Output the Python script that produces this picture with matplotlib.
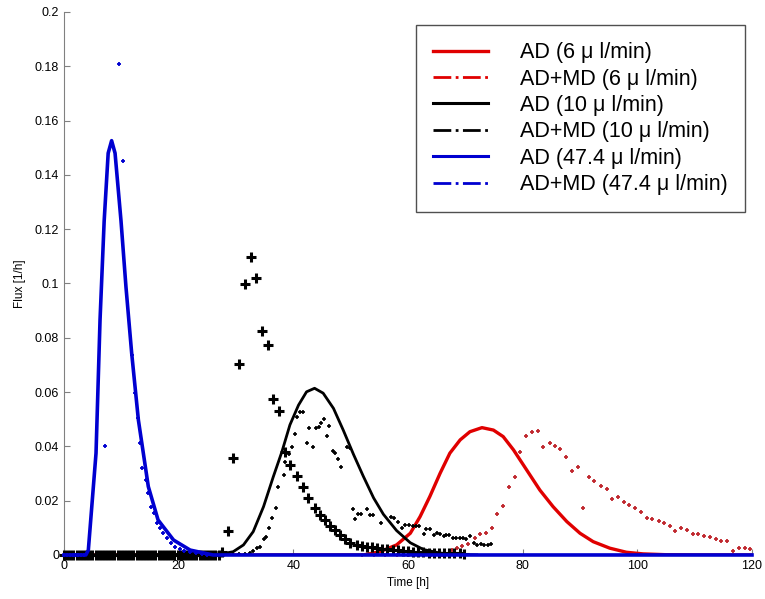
import matplotlib.pyplot as plt
from matplotlib.lines import Line2D
from matplotlib.ticker import FuncFormatter

plt.rcParams['font.family'] = ['Liberation Sans', 'DejaVu Sans']

# AD, 6 ul/min (red solid)
ad6_t = [0, 52.2, 55.1, 58.0, 60.4, 62.1, 63.8, 65.6, 67.3, 69.1, 70.8, 72.9, 74.9, 76.6,
         78.4, 80.7, 83.0, 85.3, 87.7, 90.0, 92.3, 95.2, 98.1, 101.0, 105.0, 110.0, 120.0]
ad6_f = [0, 0, 0.0012, 0.0037, 0.008, 0.0141, 0.0215, 0.0301, 0.0375, 0.0424, 0.0454, 0.0469,
         0.046, 0.0436, 0.0387, 0.0313, 0.0239, 0.0178, 0.0123, 0.008, 0.0049, 0.0025, 0.001,
         0.0004, 0.0001, 0, 0]

# AD+MD, 6 ul/min (red points)
admd6_t = [52.0, 54.0, 56.0, 58.0, 60.0, 62.0, 64.0, 66.0, 67.6, 68.5, 69.4, 70.4, 71.7, 72.6,
           73.6, 74.6, 75.6, 76.6, 77.6, 78.7, 79.5, 80.6, 81.6, 82.6, 83.6, 84.7, 85.6, 86.5,
           87.6, 88.6, 89.6, 90.6, 91.6, 92.5, 93.7, 94.7, 95.5, 96.6, 97.6, 98.6, 99.6, 100.6,
           101.6, 102.6, 103.7, 104.7, 105.7, 106.6, 107.6, 108.6, 109.7, 110.6, 111.6, 112.7,
           113.7, 114.6, 115.6, 116.6, 117.7, 118.7, 119.7]
admd6_f = [0, 0, 0, 0, 0, 0, 0, 0, 0.0018, 0.0025, 0.0033, 0.004, 0.0061, 0.0076, 0.0082,
           0.0101, 0.015, 0.018, 0.0252, 0.0286, 0.0378, 0.0438, 0.0454, 0.0457, 0.0399, 0.0411,
           0.0401, 0.0389, 0.0362, 0.0309, 0.0323, 0.0172, 0.0288, 0.0273, 0.0254, 0.0242,
           0.0205, 0.0214, 0.0194, 0.0183, 0.0172, 0.0157, 0.0137, 0.0131, 0.0125, 0.0117,
           0.0108, 0.0088, 0.0098, 0.0092, 0.0077, 0.0076, 0.007, 0.0066, 0.006, 0.005, 0.005,
           0.0016, 0.0027, 0.0027, 0.0022]

# AD, 10 ul/min (black solid)
ad10_t = [0, 27.2, 29.5, 31.3, 33.0, 34.8, 36.5, 38.0, 39.4, 40.9, 42.3, 43.7, 45.2, 47.0,
          48.7, 50.5, 52.2, 54.0, 55.7, 58.0, 60.4, 62.7, 65.6, 68.5, 72.0]
ad10_f = [0, 0.0003, 0.0012, 0.0037, 0.0086, 0.0178, 0.0288, 0.038, 0.0479, 0.0552, 0.0601,
          0.0614, 0.0596, 0.054, 0.046, 0.037, 0.029, 0.021, 0.015, 0.009, 0.0045,
          0.002, 0.0007, 0.0002, 0]

# AD+MD, 10 ul/min (small black points)
admd10_t = [27.5, 28.5, 29.5, 30.5, 31.5, 32.4, 33.0, 33.6, 34.1, 34.8, 35.2, 35.8, 36.3,
            36.9, 37.3, 38.3, 38.5, 39.3, 39.7, 40.3, 40.7, 41.2, 41.7, 42.3, 42.8, 43.4,
            44.0, 44.5, 44.9, 45.4, 45.8, 46.3, 46.9, 47.3, 47.8, 48.3, 49.3, 49.8, 50.4,
            50.8, 51.3, 51.8, 52.8, 53.4, 53.9, 55.3, 57.0, 57.6, 58.3, 58.9, 59.5, 60.2,
            60.9, 61.4, 62.0, 62.8, 63.2, 63.8, 64.5, 65.0, 65.6, 66.2, 66.7, 67.2, 67.8,
            68.4, 69.0, 69.6, 70.1, 70.8, 71.5, 72.1, 72.7, 73.3, 73.9, 74.4]
admd10_f = [0, 0, 0, 0.0003, 0.0004, 0.0006, 0.0016, 0.0025, 0.0031, 0.0058, 0.0067,
            0.0101, 0.0135, 0.0172, 0.0249, 0.0295, 0.0344, 0.0372, 0.0399, 0.0446, 0.0509,
            0.0528, 0.0528, 0.0411, 0.0467, 0.0397, 0.0469, 0.0473, 0.0485, 0.05, 0.0438,
            0.0476, 0.0384, 0.0377, 0.0354, 0.0323, 0.0399, 0.0393, 0.0168, 0.0131, 0.0151,
            0.0151, 0.0168, 0.0147, 0.0147, 0.0117, 0.014, 0.0138, 0.0123, 0.0098, 0.011,
            0.011, 0.0108, 0.0107, 0.0105, 0.0076, 0.0096, 0.0094, 0.0074, 0.0081, 0.0079,
            0.007, 0.0074, 0.0072, 0.0063, 0.0062, 0.0063, 0.0061, 0.0058, 0.007, 0.0045,
            0.0037, 0.004, 0.0035, 0.0037, 0.0039]

# AD, 47.4 ul/min (blue solid)
ad47_t = [0, 3.8, 4.24, 5.58, 6.28, 7.0, 7.7, 8.3, 8.9, 9.94, 10.8, 11.8, 12.97, 14.7, 16.4,
          19.1, 22.0, 26.0, 120.0]
ad47_f = [0, 0, 0.0018, 0.0375, 0.0866, 0.123, 0.148, 0.1526, 0.148, 0.123, 0.0988, 0.0743,
          0.0497, 0.0252, 0.0129, 0.0055, 0.0018, 0, 0]

# AD+MD, 47.4 ul/min (blue points)
admd47_t = [0.0, 0.5, 1.0, 1.5, 2.0, 2.5, 3.0, 3.5, 7.15, 9.6, 10.2, 11.8, 12.4, 12.85,
            13.26, 13.66, 14.25, 14.7, 15.2, 15.7, 16.2, 16.7, 17.3, 17.9, 18.6, 19.4, 20.2,
            21.0, 22.0, 23.0, 24.0, 25.0]
admd47_f = [0, 0, 0, 0, 0, 0, 0, 0, 0.0401, 0.181, 0.145, 0.0737, 0.0595, 0.0506, 0.0411,
            0.0322, 0.0276, 0.0227, 0.0178, 0.0153, 0.0117, 0.0098, 0.008, 0.0061, 0.0043,
            0.0031, 0.0022, 0.0015, 0.001, 0.0006, 0.0003, 0.0001]

# bold black crosses (not in legend)
cross_t = [0.0, 0.55, 1.1, 1.65, 2.2, 2.75, 3.3, 3.85, 4.4, 4.95, 5.5, 6.05, 6.6, 7.15, 7.7,
           8.25, 8.8, 9.35, 9.9, 10.45, 11.0, 11.55, 12.1, 12.65, 13.2, 13.75, 14.3, 14.85,
           15.4, 15.95, 16.5, 17.05, 17.6, 18.15, 18.7, 19.25, 19.8, 20.35, 20.9, 21.45,
           22.0, 22.55, 23.1, 23.65, 24.2, 24.75, 25.3, 25.85, 26.4, 26.95, 27.5, 28.55,
           29.4, 30.5, 31.6, 32.6, 33.5, 34.5, 35.5, 36.5, 37.5, 38.5, 39.4, 40.6, 41.6,
           42.5, 43.7, 44.7, 45.5, 46.4, 47.3, 48.1, 49.0, 49.9, 51.1, 51.9, 52.8, 53.7,
           54.6, 55.5, 56.4, 57.3, 58.2, 59.1, 60.0, 60.9, 61.8, 62.7, 63.6, 64.5, 65.4,
           66.3, 67.2, 68.1, 69.0, 69.8]
cross_f = [0] * 50 + [0.0012, 0.0088, 0.0356, 0.0702, 0.0997, 0.1096, 0.1019, 0.0826,
                      0.0773, 0.0573, 0.0532, 0.0378, 0.0331, 0.0292, 0.0252, 0.0211, 0.0172,
                      0.0147, 0.0129, 0.0107, 0.0092, 0.0074, 0.0058, 0.0043, 0.0037, 0.0033,
                      0.0031, 0.0029, 0.0026, 0.0023, 0.0021, 0.0019, 0.0017, 0.0015, 0.0013,
                      0.0012, 0.0011, 0.001, 0.0009, 0.0008, 0.0008, 0.0007, 0.0007, 0.0006,
                      0.0006, 0.0005]

labels = ['AD (6 \u03bc l/min)', 'AD+MD (6 \u03bc l/min)', 'AD (10 \u03bc l/min)',
          'AD+MD (10 \u03bc l/min)', 'AD (47.4 \u03bc l/min)', 'AD+MD (47.4 \u03bc l/min)']

red = '#e00000'
red_pts = '#c0282e'
blue = '#0000d0'

fig = plt.figure(figsize=(7.65, 5.99), dpi=100)
ax = fig.add_axes([0.0837, 0.0735, 0.8993, 0.9065])

ax.plot(ad6_t, ad6_f, color=red, lw=2.4, zorder=3)
ax.plot(admd6_t, admd6_f, ls='none', marker='+', ms=3.5, mew=1.3, color=red_pts, zorder=3,
        clip_on=False)
ax.plot(cross_t, cross_f, ls='none', marker='+', ms=7, mew=2.2, color='black', zorder=4,
        clip_on=False)
ax.plot(ad10_t, ad10_f, color='black', lw=2.0, zorder=4)
ax.plot(admd10_t, admd10_f, ls='none', marker='+', ms=3.5, mew=1.2, color='black', zorder=4)
ax.plot(ad47_t, ad47_f, color=blue, lw=2.6, zorder=5, clip_on=False)
ax.plot(admd47_t, admd47_f, ls='none', marker='+', ms=3.5, mew=1.3, color=blue, zorder=5,
        clip_on=False)

ax.set_xlim(0, 120)
ax.set_ylim(0, 0.2)
ax.set_xticks([0, 20, 40, 60, 80, 100, 120])
ax.set_yticks([i * 0.02 for i in range(11)])
ax.yaxis.set_major_formatter(FuncFormatter(lambda v, p: '%g' % round(v, 3)))
ax.tick_params(direction='in', length=4, color='#808080', labelsize=9)
for s in ['top', 'right']:
    ax.spines[s].set_visible(False)
for s in ['left', 'bottom']:
    ax.spines[s].set_color('#808080')
ax.set_xlabel('Time [h]', fontsize=8.5, labelpad=4)
ax.set_ylabel('Flux [1/h]', fontsize=8.5, labelpad=6)

handles = [Line2D([], [], color=red, lw=2.4),
           Line2D([], [], color=red, lw=2, ls='-.'),
           Line2D([], [], color='black', lw=2.2),
           Line2D([], [], color='black', lw=2, ls='-.'),
           Line2D([], [], color=blue, lw=2.2),
           Line2D([], [], color=blue, lw=2, ls='-.')]
leg = ax.legend(handles, labels, loc='upper right', bbox_to_anchor=(0.99, 0.976),
                borderaxespad=0, fontsize=15.5, handlelength=2.55, handletextpad=1.5,
                labelspacing=0.25, borderpad=0.8, fancybox=False, framealpha=1)
leg.get_frame().set_edgecolor('#505050')
leg.get_frame().set_linewidth(1.0)

fig.savefig('out.png', dpi=100)
